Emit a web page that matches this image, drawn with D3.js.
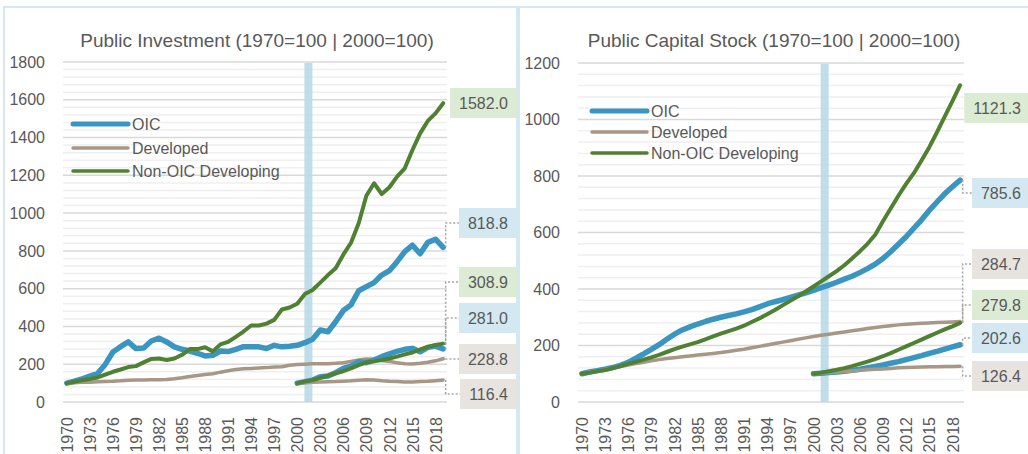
<!DOCTYPE html>
<html>
<head>
<meta charset="utf-8">
<script src="https://cdn.jsdelivr.net/npm/d3@7"></script>
<style>
  body { margin: 0; background: #fff; }
  text { font-family: "Liberation Sans", Arial, sans-serif; fill: #595959; }
</style>
</head>
<body>
<div id="chart"></div>
<script>
// categories
var years = d3.range(1970, 2020);
var years00 = d3.range(2000, 2020);
var tickYears = [1970, 1973, 1976, 1979, 1982, 1985, 1988, 1991, 1994, 1997, 2000, 2003, 2006, 2009, 2012, 2015, 2018];
var seriesNames = ['OIC', 'Developed', 'Non-OIC Developing'];

// Public Investment, 1970=100
var piOIC = [100, 110, 123, 137, 151, 199, 265, 293, 318, 283,
  286, 323, 338, 318, 292, 279, 270, 258, 244, 247,
  270, 267, 279, 293, 292, 292, 283, 300, 292, 295,
  300, 314, 332, 381, 372, 425, 484, 514, 589, 611,
  632, 672, 695, 743, 796, 830, 785, 845, 862, 818.8];
var piDev = [100, 102, 104, 105, 107, 109, 110, 112, 115, 117,
  117, 118, 118, 119, 123, 128, 135, 140, 145, 150,
  158, 165, 172, 176, 178, 180, 182, 185, 187, 195,
  198, 200, 202, 203, 203, 205, 208, 215, 222, 228,
  226, 220, 215, 208, 203, 201, 205, 210, 218, 228.8];
var piNon = [100, 107, 115, 122, 130, 145, 160, 172, 185, 190,
  210, 228, 230, 222, 230, 250, 280, 280, 290, 268,
  305, 318, 345, 373, 405, 405, 415, 435, 490, 500,
  520, 572, 593, 632, 672, 708, 780, 843, 946, 1092,
  1158, 1101, 1137, 1193, 1237, 1334, 1422, 1488, 1528, 1582.0];
// Public Investment, 2000=100
var piOIC00 = [100, 108, 116, 134, 138, 155, 178, 190, 213, 208, 222, 240, 255, 268, 279, 284, 266, 289, 296, 281.0];
var piDev00 = [100, 102, 104, 106, 107, 108, 110, 112, 115, 118, 117, 113, 110, 108, 106, 106, 108, 110, 113, 116.4];
var piNon00 = [100, 108, 116, 128, 140, 152, 163, 178, 195, 210, 215, 222, 230, 240, 252, 262, 278, 292, 302, 308.9];

// Public Capital Stock, 1970=100
var csOIC = [100, 106, 111, 116, 122, 130, 140, 155, 170, 186,
  203, 222, 240, 255, 266, 276, 285, 293, 300, 306,
  312, 319, 327, 337, 347, 355, 362, 370, 378, 386,
  395, 405, 414, 424, 435, 445, 458, 472, 488, 508,
  532, 558, 585, 615, 645, 678, 708, 737, 762, 785.6];
var csDev = [100, 105, 110, 115, 120, 126, 131, 136, 141, 146,
  150, 154, 157, 160, 163, 166, 169, 172, 175, 179,
  183, 187, 192, 197, 202, 207, 212, 217, 222, 227,
  232, 236, 240, 244, 248, 252, 256, 260, 264, 267,
  270, 273, 275, 277, 279, 280, 281, 282, 283.5, 284.7];
var csNon = [100, 104, 109, 113, 120, 127, 135, 142, 150, 158,
  167, 177, 187, 196, 204, 212, 222, 232, 242, 251,
  260, 270, 283, 296, 311, 326, 342, 358, 374, 391,
  409, 427, 445, 463, 484, 508, 533, 560, 592, 640,
  685, 730, 772, 810, 855, 902, 955, 1010, 1065, 1121.3];
// Public Capital Stock, 2000=100
var csOIC00 = [100, 102, 104, 106, 109, 112, 116, 121, 126, 131, 137, 143, 150, 157, 164, 172, 179, 187, 195, 202.6];
var csDev00 = [100, 102, 104, 106, 108, 110, 112, 114, 116, 117, 119, 121, 122, 123, 124, 124.5, 125, 125.5, 126, 126.4];
var csNon00 = [100, 104, 109, 114, 120, 127, 135, 143, 152, 162, 173, 185, 197, 209, 221, 233, 245, 257, 268, 279.8];

var colors = { oic: '#3a96c1', dev: '#a69786', non: '#508032' };
var boxFill = { oic: '#d3e8f1', dev: '#e7e3df', non: '#dcebd4' };
var widths = { oic: 5.5, dev: 3.5, non: 4 };

var W = 1028, H = 454;
var svg = d3.select('#chart').append('svg')
  .attr('width', W)
  .attr('height', H);

// panel frames
svg.append('rect').attr('x', 4).attr('y', 7).attr('width', 513).attr('height', 460)
  .attr('fill', 'none').attr('stroke', '#d5e8f2').attr('stroke-width', 2);
svg.append('rect').attr('x', 519).attr('y', 7).attr('width', 520).attr('height', 460)
  .attr('fill', 'none').attr('stroke', '#d5e8f2').attr('stroke-width', 2);

var panels = [
  {
    title: 'Public Investment (1970=100 | 2000=100)', titleX: 257,
    x0: 63, x1: 447, yTop: 62, ymax: 1800,
    legendX: 73, legendY: [124, 148, 171],
    boxRight: 517,
    full: [['oic', piOIC], ['dev', piDev], ['non', piNon]],
    rebased: [['oic', piOIC00], ['dev', piDev00], ['non', piNon00]],
    // end labels: [series key, value, label centre y, leader?]
    labels: [['non', piNon[49], 103, false], ['oic', piOIC[49], 223, true],
      ['non', piNon00[19], 282, true], ['oic', piOIC00[19], 318, true],
      ['dev', piDev[49], 359, true], ['dev', piDev00[19], 394, true]]
  },
  {
    title: 'Public Capital Stock (1970=100 | 2000=100)', titleX: 774,
    x0: 578, x1: 964, yTop: 63, ymax: 1200,
    legendX: 592, legendY: [111, 132, 153],
    boxRight: 1030,
    full: [['oic', csOIC], ['dev', csDev], ['non', csNon]],
    rebased: [['oic', csOIC00], ['dev', csDev00], ['non', csNon00]],
    labels: [['non', csNon[49], 108, false], ['oic', csOIC[49], 193, true],
      ['dev', csDev[49], 264, true], ['non', csNon00[19], 305, true],
      ['oic', csOIC00[19], 338, true], ['dev', csDev00[19], 376, true]]
  }
];

panels.forEach(drawPanel);

function drawPanel(p) {
  var yBase = 402;
  var x = d3.scalePoint().domain(years).range([p.x0, p.x1]).padding(0.5);
  var y = d3.scaleLinear().domain([0, p.ymax]).range([yBase, p.yTop]);
  var g = svg.append('g');

  // minor grid
  var minor = d3.range(0, p.ymax + 1, 40).filter(function (v) { return v % 200 !== 0; });
  g.selectAll('line.minor').data(minor).enter().append('line')
    .attr('x1', p.x0).attr('x2', p.x1)
    .attr('y1', function (d) { return y(d); }).attr('y2', function (d) { return y(d); })
    .attr('stroke', '#efefef').attr('stroke-width', 1.5);
  // major grid
  var major = d3.range(0, p.ymax + 1, 200);
  g.selectAll('line.major').data(major).enter().append('line')
    .attr('x1', p.x0).attr('x2', p.x1)
    .attr('y1', function (d) { return y(d); }).attr('y2', function (d) { return y(d); })
    .attr('stroke', '#d9d9d9').attr('stroke-width', 1.5);

  // y axis labels
  var ya = g.append('g').attr('transform', 'translate(' + p.x0 + ',0)')
    .call(d3.axisLeft(y).tickValues(major).tickSize(0).tickPadding(18).tickFormat(d3.format('d')));
  ya.select('.domain').remove();
  ya.selectAll('text').style('font-size', '16px').style('font-family', '"Liberation Sans", Arial, sans-serif')
    .attr('fill', '#595959');

  // x axis labels
  var xa = g.append('g').attr('transform', 'translate(0,' + yBase + ')')
    .call(d3.axisBottom(x).tickValues(tickYears).tickSize(0));
  xa.select('.domain').remove();
  xa.selectAll('text')
    .style('font-size', '16px').style('font-family', '"Liberation Sans", Arial, sans-serif')
    .attr('fill', '#595959')
    .attr('text-anchor', 'end')
    .attr('dy', '0.35em')
    .attr('y', 0)
    .attr('x', -15)
    .attr('transform', 'rotate(-90)');

  // base-year marker band
  var step = x.step();
  g.append('rect')
    .attr('x', x(2001) + step * 0.45 - 4)
    .attr('y', p.yTop + 1)
    .attr('width', 8)
    .attr('height', yBase - p.yTop - 1)
    .attr('fill', '#b9d9e8')
    .attr('opacity', 0.9);

  var line = d3.line()
    .x(function (d) { return x(d[0]); })
    .y(function (d) { return y(d[1]); });

  function drawSeries(list, yrs) {
    list.forEach(function (s) {
      g.append('path')
        .datum(yrs.map(function (yr, i) { return [yr, s[1][i]]; }))
        .attr('d', line)
        .attr('fill', 'none')
        .attr('stroke', colors[s[0]])
        .attr('stroke-width', widths[s[0]])
        .attr('stroke-linejoin', 'round')
        .attr('stroke-linecap', 'round');
    });
  }
  drawSeries(p.full, years);
  drawSeries(p.rebased, years00);

  // title
  g.append('text')
    .attr('x', p.titleX).attr('y', 47)
    .attr('text-anchor', 'middle')
    .style('font-size', '19px')
    .text(p.title);

  // legend
  ['oic', 'dev', 'non'].forEach(function (k, i) {
    g.append('line')
      .attr('x1', p.legendX).attr('x2', p.legendX + 55)
      .attr('y1', p.legendY[i]).attr('y2', p.legendY[i])
      .attr('stroke', colors[k])
      .attr('stroke-width', k === 'oic' ? 5 : 3.5)
      .attr('stroke-linecap', 'round');
    g.append('text')
      .attr('x', p.legendX + 59).attr('y', p.legendY[i])
      .attr('dy', '0.35em')
      .style('font-size', '16px')
      .text(seriesNames[i]);
  });

  // end labels with leader lines
  var xEnd = x(2019);
  p.labels.forEach(function (l) {
    var key = l[0], val = l[1], cy = l[2];
    var t = g.append('text')
      .attr('y', cy).attr('dy', '0.35em')
      .attr('text-anchor', 'middle')
      .style('font-size', '16px')
      .text(d3.format('.1f')(val));
    var tw = t.node().getComputedTextLength();
    var bw = tw + 18;
    var bx = p.boxRight - bw;
    g.insert('rect', function () { return t.node(); })
      .attr('x', bx).attr('y', cy - 15)
      .attr('width', bw).attr('height', 30)
      .attr('fill', boxFill[key]);
    t.attr('x', bx + bw / 2);
    if (l[3]) {
      var py = y(val);
      g.append('path')
        .attr('d', 'M' + (xEnd + 2.5) + ',' + py + 'V' + cy + 'H' + bx)
        .attr('fill', 'none')
        .attr('stroke', '#a6a6a6')
        .attr('stroke-width', 1.5)
        .attr('stroke-dasharray', '2,2');
    }
  });
}
</script>
</body>
</html>
